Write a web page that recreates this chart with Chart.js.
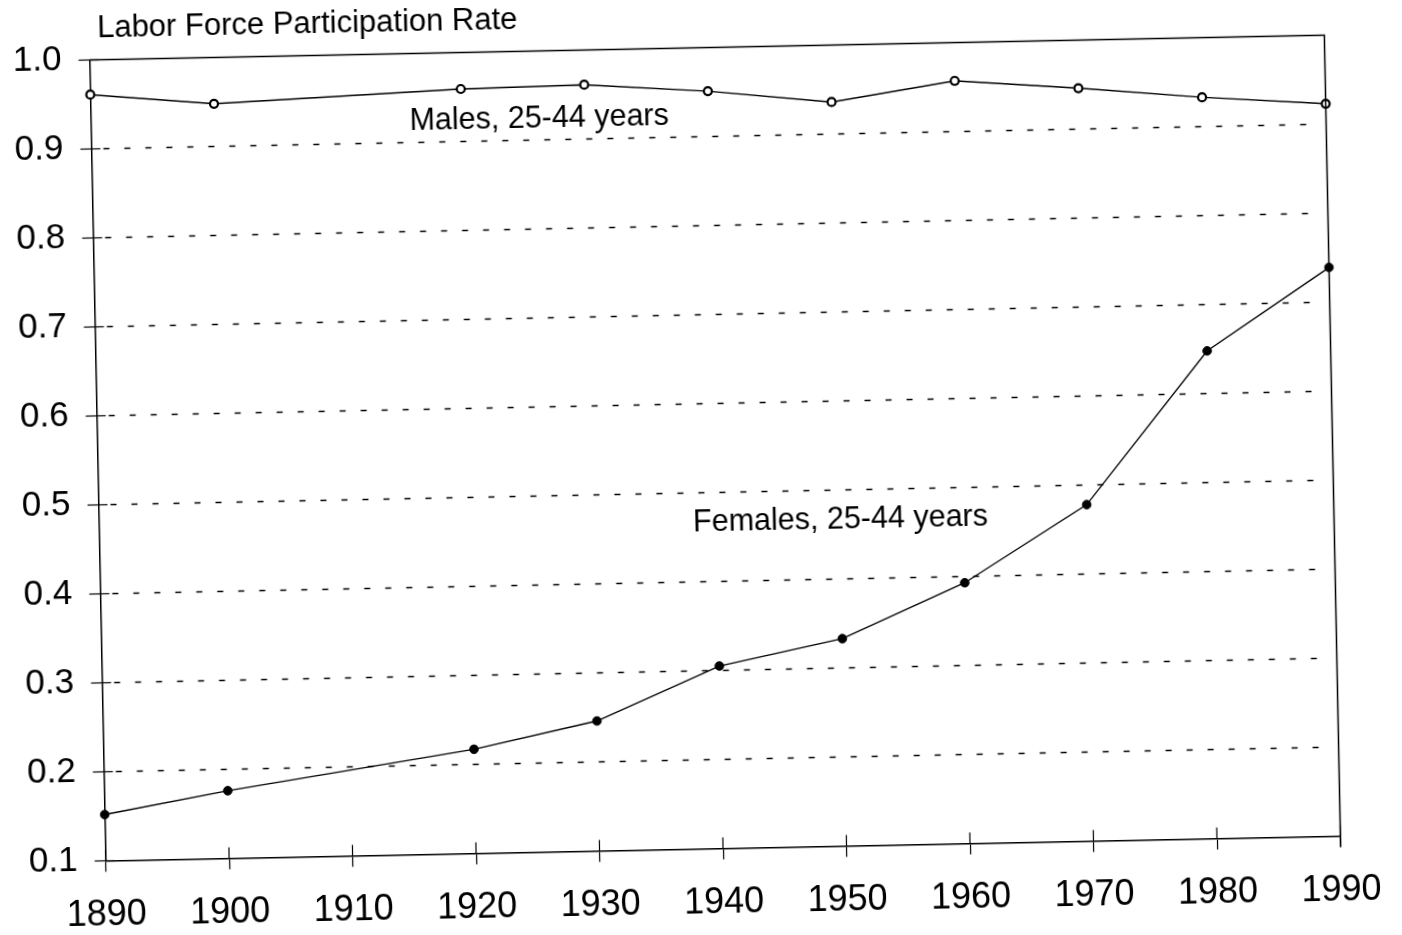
<!DOCTYPE html>
<html>
<head>
<meta charset="utf-8">
<script src="https://cdn.jsdelivr.net/npm/chart.js@4/dist/chart.umd.min.js"></script>
<style>
  html, body { margin: 0; padding: 0; background: #fff; overflow: hidden; width: 1402px; height: 935px; }
  #wrap { position: absolute; left: 0; top: -40px; width: 1402px; height: 1000px;
          transform-origin: 715px 488px; transform: rotate(-1.15deg); }
  canvas { display: block; }
</style>
</head>
<body>
<div id="wrap"><canvas id="c" width="1402" height="1000"></canvas></div>
<script>
// ---- data ----
const years   = [1890, 1900, 1920, 1930, 1940, 1950, 1960, 1970, 1980, 1990];
const males   = [0.961, 0.948, 0.959, 0.961, 0.951, 0.936, 0.957, 0.946, 0.933, 0.923];
const females = [0.152, 0.176, 0.217, 0.246, 0.305, 0.333, 0.393, 0.478, 0.648, 0.739];
const xRange  = [1890, 1990];
const yRange  = [0.1, 1.0];
const gridValues = [0.2, 0.3, 0.4, 0.5, 0.6, 0.7, 0.8, 0.9];
const titleText  = "Labor Force Participation Rate";
const maleLabel  = "Males, 25-44 years";
const femaleLabel = "Females, 25-44 years";
// label anchors in data units
const titlePos  = [1890.66, 1.0346];
const malePos   = [1915.8, 0.9238];
const femalePos = [1938.1, 0.4659];

const FONT = "'Liberation Sans', Arial, Helvetica, sans-serif";

const framePlugin = {
  id: 'frame',
  beforeDatasetsDraw(chart) {
    const {ctx, chartArea: a, scales: {y}} = chart;
    ctx.save();
    ctx.strokeStyle = '#000';
    ctx.lineWidth = 1.6;
    ctx.setLineDash([6, 15]);
    gridValues.forEach(v => {
      const py = y.getPixelForValue(v);
      ctx.beginPath();
      ctx.moveTo(a.left + 12, py);
      ctx.lineTo(a.right - 14, py);
      ctx.stroke();
    });
    ctx.restore();
  },
  afterDraw(chart) {
    const {ctx, chartArea: a, scales: {x, y}} = chart;
    ctx.save();
    ctx.strokeStyle = '#000';
    ctx.lineWidth = 1.5;
    // top and right border
    ctx.beginPath();
    ctx.moveTo(a.left, a.top);
    ctx.lineTo(a.right, a.top);
    ctx.lineTo(a.right, a.bottom + 11);
    ctx.stroke();
    // inward parts of tick crosses
    ctx.lineWidth = 1.2;
    x.ticks.forEach(t => {
      const px = x.getPixelForValue(t.value);
      ctx.beginPath();
      ctx.moveTo(px, a.bottom - 11);
      ctx.lineTo(px, a.bottom);
      ctx.stroke();
    });
    y.ticks.forEach(t => {
      const py = y.getPixelForValue(t.value);
      ctx.beginPath();
      ctx.moveTo(a.left, py);
      ctx.lineTo(a.left + 9, py);
      ctx.stroke();
    });
    // texts
    ctx.fillStyle = '#000';
    ctx.textAlign = 'left';
    ctx.textBaseline = 'middle';
    ctx.font = '31px ' + FONT;
    ctx.fillText(titleText, x.getPixelForValue(titlePos[0]), y.getPixelForValue(titlePos[1]));
    ctx.font = '30.5px ' + FONT;
    ctx.fillText(maleLabel, x.getPixelForValue(malePos[0]), y.getPixelForValue(malePos[1]));
    ctx.fillText(femaleLabel, x.getPixelForValue(femalePos[0]), y.getPixelForValue(femalePos[1]));
    ctx.restore();
  }
};

new Chart(document.getElementById('c'), {
  type: 'line',
  data: {
    datasets: [
      {
        label: maleLabel,
        data: years.map((yr, i) => ({x: yr, y: males[i]})),
        borderColor: '#000', borderWidth: 1.4,
        pointRadius: 4, pointBorderWidth: 2.2,
        pointBackgroundColor: '#fff', pointBorderColor: '#000',
        tension: 0, clip: false
      },
      {
        label: femaleLabel,
        data: years.map((yr, i) => ({x: yr, y: females[i]})),
        borderColor: '#000', borderWidth: 1.4,
        pointRadius: 4.3, pointBorderWidth: 1,
        pointBackgroundColor: '#000', pointBorderColor: '#000',
        tension: 0, clip: false
      }
    ]
  },
  options: {
    responsive: false,
    animation: false,
    devicePixelRatio: 1,
    layout: { padding: { top: 87.5, right: 69.5, left: 0, bottom: 0 } },
    plugins: { legend: { display: false }, tooltip: { enabled: false }, title: { display: false } },
    scales: {
      x: {
        type: 'linear', min: xRange[0], max: xRange[1],
        ticks: { stepSize: 10, color: '#000', font: { family: FONT, size: 36 }, padding: 22,
                 maxRotation: 0, callback: v => String(v) },
        grid: { drawOnChartArea: false, drawTicks: true, tickLength: 11, tickColor: '#000', tickWidth: 1.2 },
        border: { display: true, color: '#000', width: 1.5 },
        afterFit(s) { s.height = 111.5; }
      },
      y: {
        min: yRange[0], max: yRange[1],
        ticks: { stepSize: 0.1, color: '#000', font: { family: FONT, size: 35 }, padding: 17,
                 callback: v => Number(v).toFixed(1) },
        grid: { drawOnChartArea: false, tickLength: 11, tickColor: '#000', tickWidth: 1.2 },
        border: { display: true, color: '#000', width: 1.5 },
        afterFit(s) { s.width = 97.5; }
      }
    }
  },
  plugins: [framePlugin]
});
</script>
</body>
</html>
